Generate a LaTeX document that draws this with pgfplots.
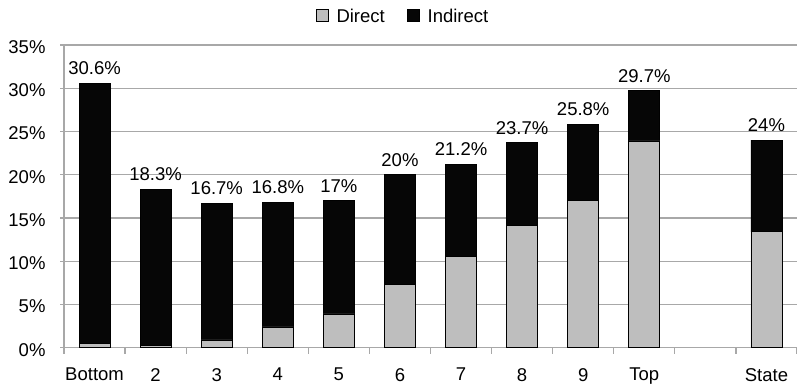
\documentclass[border=0pt]{standalone}
\usepackage{pgfplots}
\usepackage{pgfplotstable}
\pgfplotsset{compat=1.18}
\usepackage{fontspec}
\setmainfont{Liberation Sans}

\definecolor{directgray}{RGB}{190,190,190}
\definecolor{indirectblack}{RGB}{6,6,6}
\definecolor{gridgray}{RGB}{168,168,168}

% share of each group, in percent: direct part, indirect part, total
\pgfplotstableread{
x  direct indirect total
0  0.5    30.1     30.6
1  0.3    18.0     18.3
2  0.9    15.8     16.7
3  2.4    14.4     16.8
4  3.9    13.1     17.0
5  7.3    12.7     20.0
6  10.5   10.7     21.2
7  14.1   9.6      23.7
8  17.0   8.8      25.8
9  23.9   5.8      29.7
11 13.4   10.6     24.0
}\rates

\pgfplotsset{
  frame/.style={
    at={(64bp,38.3bp)}, anchor=south west,
    scale only axis, width=733bp, height=302.7bp,
    bar width=31bp,
    xmin=-0.5, xmax=11.5, ymin=0, ymax=35,
    clip=false,
  },
}

\begin{document}
\begin{tikzpicture}[font=\fontsize{18.5bp}{22bp}\selectfont]
\path[use as bounding box] (0,0) rectangle (797bp,386bp);
\begin{axis}[
  frame,
  ybar stacked,
  xtick={0,1,2,3,4,5,6,7,8,9,11},
  xticklabels={Bottom,2,3,4,5,6,7,8,9,Top,State},
  minor xtick={-0.5,0.5,1.5,2.5,3.5,4.5,5.5,6.5,7.5,8.5,9.5,10.5,11.5},
  ytick={0,5,...,35},
  yticklabel={\pgfmathprintnumber{\tick}\%},
  /pgf/number format/assume math mode=true,
  ymajorgrids,
  grid style={gridgray, line width=1.2bp},
  axis x line*=bottom, axis y line*=left,
  axis line style={gridgray, line width=1.2bp, -},
  tick align=outside,
  major tick length=4bp, minor tick length=6bp,
  major x tick style={draw=none},
  minor x tick style={gridgray, line width=1.2bp},
  major y tick style={gridgray, line width=1.2bp},
  xticklabel style={yshift=-13bp},
  yticklabel style={xshift=-11bp, yshift=-2bp},
  legend columns=2,
  legend entries={Direct,Indirect},
  legend style={draw=none, fill=none, at={(axis description cs:0.4625,1)},
    anchor=center, yshift=28bp,
    /tikz/every even column/.append style={column sep=20bp}},
  legend image code/.code={%
    \draw[#1, line width=0.8bp] (0bp,-4bp) rectangle (12bp,8bp);
    \path (18bp,0bp);},
]
\addplot[fill=directgray, draw=black, line width=0.8bp]
  table[x=x, y=direct] {\rates};
\addplot[fill=indirectblack, draw=black, line width=0.8bp]
  table[x=x, y=indirect] {\rates};
\end{axis}
% totals written above each bar
\begin{axis}[
  frame, hide axis, ybar,
  /pgf/number format/assume math mode=true,
]
\addplot[draw=none, fill=none,
  point meta=explicit,
  nodes near coords={\pgfmathprintnumber{\pgfplotspointmeta}\%},
  every node near coord/.append style={text=black, anchor=south, yshift=5bp}]
  table[x=x, y=total, meta=total] {\rates};
\end{axis}
\end{tikzpicture}
\end{document}
